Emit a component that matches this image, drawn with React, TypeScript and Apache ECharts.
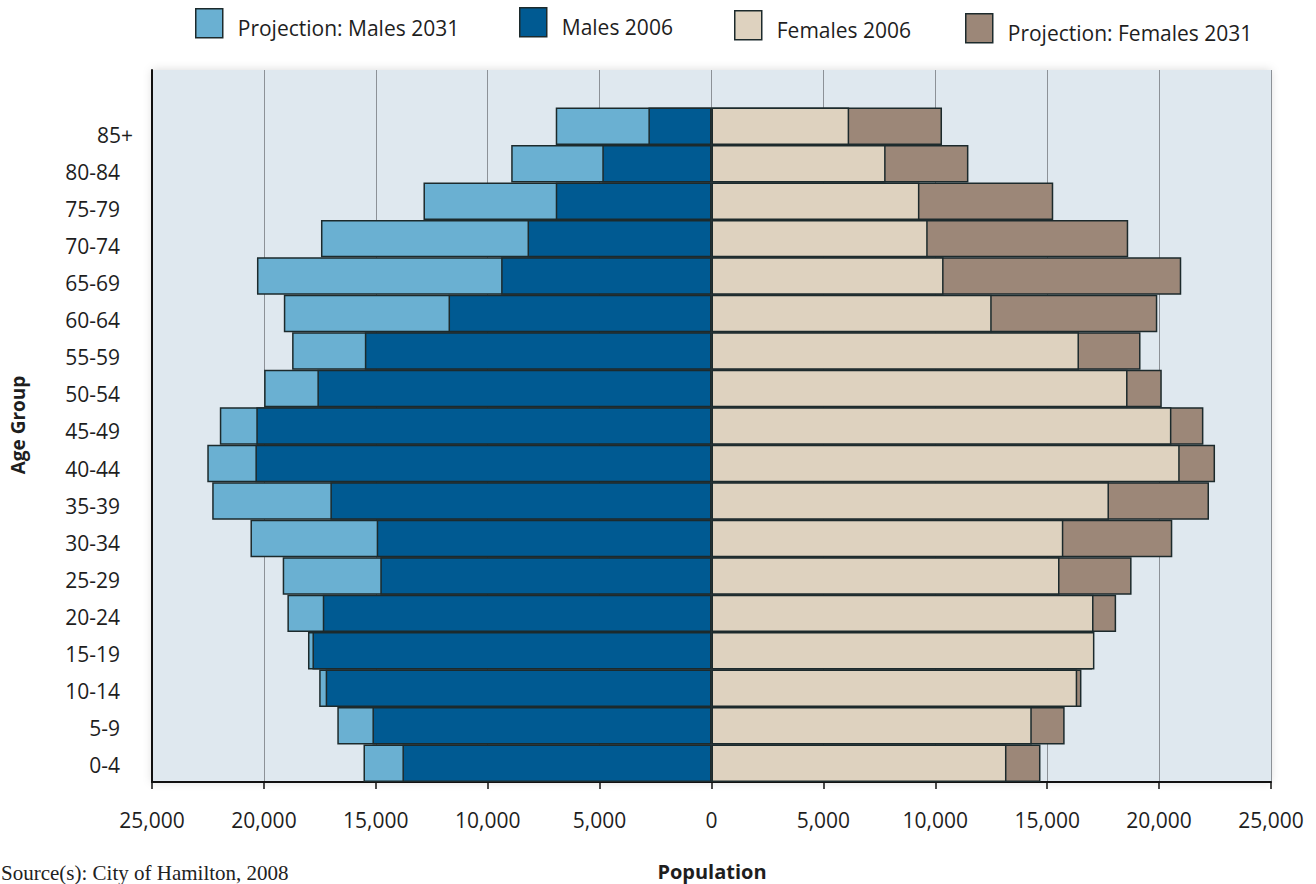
import React, { useEffect, useRef } from "react";
import * as echarts from "echarts";

const categories = ["0-4", "5-9", "10-14", "15-19", "20-24", "25-29", "30-34", "35-39", "40-44", "45-49", "50-54", "55-59", "60-64", "65-69", "70-74", "75-79", "80-84", "85+"];
const males2006 = [13810, 15150, 17240, 17830, 17370, 14800, 14960, 17030, 20380, 20340, 17610, 15490, 11750, 9400, 8220, 6960, 4880, 2820];
const malesProj2031 = [15550, 16720, 17530, 18030, 18950, 19160, 20600, 22310, 22530, 21970, 19990, 18740, 19110, 20310, 17450, 12870, 8950, 6960];
const females2006 = [13180, 14310, 16340, 17110, 17070, 15550, 15720, 17760, 20920, 20550, 18590, 16420, 12520, 10370, 9660, 9290, 7780, 6150];
const femalesProj2031 = [14700, 15780, 16530, 17000, 18080, 18770, 20590, 22230, 22500, 21980, 20120, 19170, 19920, 20990, 18620, 15270, 11480, 10300];

const FONT = "Open Sans";
const TXT = "#1e1e1e";
const BORDER = "#1c2a2c";

export default function App() {
  const ref = useRef<HTMLDivElement>(null);
  useEffect(() => {
    if (!ref.current) return;
    const chart = echarts.init(ref.current, null, { renderer: "svg" });
    const legendBase = (name: string, left: number, top: number) => ({
      data: [name],
      left,
      top,
      padding: 0,
      itemWidth: 27,
      itemHeight: 29,
      icon: "rect",
      selectedMode: false,
      itemStyle: { borderColor: BORDER, borderWidth: 1.5 },
      formatter: (n: string) => "{t|" + n + "}",
      textStyle: {
        fontSize: 21,
        fontFamily: FONT,
        color: TXT,
        rich: {
          t: { fontSize: 21, fontFamily: FONT, color: TXT, padding: [10, 0, 0, 10] },
        },
      },
    });
    const barBase = {
      type: "bar",
      barWidth: "100%",
      barGap: "-100%",
      barCategoryGap: 0,
      xAxisIndex: 0,
      yAxisIndex: 0,
    };
    const option = {
      animation: false,
      backgroundColor: "#ffffff",
      legend: [
        legendBase("Projection: Males 2031", 195, 8),
        legendBase("Males 2006", 519, 7),
        legendBase("Females 2006", 734, 10),
        legendBase("Projection: Females 2031", 965, 13),
      ],
      grid: [
        {
          left: 152,
          right: 45,
          top: 70,
          bottom: 102,
          show: true,
          backgroundColor: "#dfe8ef",
          borderWidth: 0,
          shadowBlur: 10,
          shadowColor: "rgba(0,0,0,0.15)",
        },
        { left: 152, right: 45, top: 116, height: 668 },
      ],
      xAxis: [
        {
          type: "value",
          min: -25000,
          max: 25000,
          interval: 5000,
          position: "bottom",
          axisLine: { show: true, onZero: false, lineStyle: { color: "#111", width: 2 } },
          axisTick: { show: true, length: 7, lineStyle: { color: "#111", width: 1.5 } },
          splitLine: { show: true, lineStyle: { color: "#8c9197", width: 1 } },
          axisLabel: {
            margin: 27,
            fontSize: 21,
            fontFamily: FONT,
            color: TXT,
            formatter: (v: number) => Math.abs(v).toLocaleString("en-US"),
          },
        },
        { type: "value", gridIndex: 1, show: false, min: 0, max: 1 },
      ],
      yAxis: [
        {
          type: "category",
          data: [...categories, ""],
          axisLine: { show: true, onZero: false, lineStyle: { color: "#111", width: 2 } },
          axisTick: { show: false },
          axisLabel: { show: false },
          splitLine: { show: false },
        },
        {
          type: "category",
          gridIndex: 1,
          data: categories,
          axisLine: { show: false },
          axisTick: { show: false },
          splitLine: { show: false },
          axisLabel: {
            margin: 19,
            fontSize: 21,
            fontFamily: FONT,
            color: TXT,
            formatter: (v: string) => (v === "85+" ? "{a|" + v + "}" : "{b|" + v + "}"),
            rich: {
              a: { fontSize: 21, fontFamily: FONT, color: TXT },
              b: { fontSize: 21, fontFamily: FONT, color: TXT, padding: [0, 13, 0, 0] },
            },
          },
        },
      ],
      series: [
        {
          ...barBase,
          name: "Projection: Males 2031",
          data: malesProj2031.map((v) => -v),
          itemStyle: { color: "#6ab0d2", borderColor: BORDER, borderWidth: 1.5 },
        },
        {
          ...barBase,
          name: "Projection: Females 2031",
          data: femalesProj2031,
          itemStyle: { color: "#9c8778", borderColor: BORDER, borderWidth: 1.5 },
        },
        {
          ...barBase,
          name: "Males 2006",
          data: males2006.map((v) => -v),
          itemStyle: { color: "#005a92", borderColor: BORDER, borderWidth: 1.5 },
        },
        {
          ...barBase,
          name: "Females 2006",
          data: females2006,
          itemStyle: { color: "#ded2bf", borderColor: BORDER, borderWidth: 1.5 },
        },
      ],
      graphic: [
        {
          type: "text",
          x: 18,
          y: 425,
          rotation: Math.PI / 2,
          style: {
            text: "Age Group",
            fontSize: 19,
            fontWeight: "bold",
            fontFamily: FONT,
            fill: TXT,
            align: "center",
            verticalAlign: "middle",
          },
        },
        {
          type: "text",
          x: 712,
          y: 871,
          style: {
            text: "Population",
            fontSize: 20,
            fontWeight: "bold",
            fontFamily: FONT,
            fill: TXT,
            align: "center",
            verticalAlign: "middle",
          },
        },
        {
          type: "text",
          x: 1,
          y: 883,
          style: {
            text: "Source(s): City of Hamilton, 2008",
            fontSize: 21,
            fontFamily: "Liberation Serif",
            fill: "#222",
            align: "left",
            verticalAlign: "bottom",
          },
        },
      ],
    };
    chart.setOption(option as any);
    return () => chart.dispose();
  }, []);
  return (
    <div
      ref={ref}
      style={{ position: "absolute", left: 0, top: 0, width: 1316, height: 884 }}
    />
  );
}
